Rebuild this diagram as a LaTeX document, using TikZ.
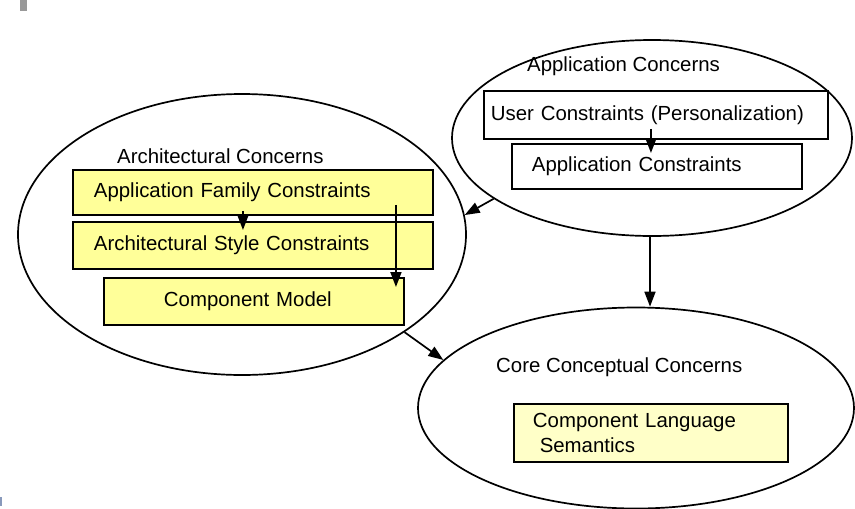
\documentclass[tikz,border=0pt]{standalone}
\usepackage{fontspec}
\setmainfont{Liberation Sans}
\usetikzlibrary{shapes.geometric,arrows.meta}
\definecolor{boxyellow}{HTML}{FFFF99}
\definecolor{paleyellow}{HTML}{FFFFC8}
\definecolor{bargray}{HTML}{999999}
\definecolor{markblue}{HTML}{8899BB}
\tikzset{
  concern/.style={draw, line width=1.7pt, ellipse, fill=white, inner sep=0pt},
  cbox/.style={draw, line width=1.9pt, rectangle, anchor=north west, align=left, inner ysep=0pt, font=\fontsize{20.4}{25}\selectfont},
  ytext/.style={anchor=west, inner sep=0pt, font=\fontsize{20.4}{25}\selectfont},
  arr/.style={line width=1.7pt, -{Triangle[length=15pt,width=11pt]}}
}
\begin{document}
\begin{tikzpicture}[x=1pt,y=-1pt]
\useasboundingbox (0,0) rectangle (855,509);
\fill[bargray] (20,0) rectangle (27,11);
\fill[markblue] (0,497) rectangle (2,506);

% ellipses
\node[concern, minimum width=448pt, minimum height=281pt] (arch) at (242,234.5) {};
\node[concern, minimum width=400pt, minimum height=196pt] (app) at (652,138) {};
\node[concern, minimum width=436pt, minimum height=201pt] (core) at (636,408) {};

% titles
\node[ytext] (archT) at (117,156) {Architectural Concerns};
\node[ytext] (appT) at (527,66) {Application Concerns};
\node[ytext] (coreT) at (496,367) {Core Conceptual Concerns};

% boxes
\node[cbox, fill=boxyellow, minimum height=45pt, inner xsep=21pt, text width=318pt] (fam) at (72,169) {Application Family Constraints};
\node[cbox, fill=boxyellow, minimum height=47pt, inner xsep=21pt, text width=318pt] (sty) at (72,221) {Architectural Style Constraints};
\node[cbox, fill=boxyellow, minimum height=47pt, inner xsep=60pt, text width=180pt] (comp) at (103,277) {Component Model};
\node[cbox, fill=white, minimum height=48pt, inner xsep=7pt, text width=330pt] (user) at (483,90) {User Constraints (Personalization)};
\node[cbox, fill=white, minimum height=45pt, inner xsep=20pt, text width=250pt] (appc) at (511,143) {Application Constraints};
\node[cbox, fill=paleyellow, minimum height=58pt, inner xsep=19pt, text width=236pt] (sem) at (513,403) {Component Language\\\ Semantics};

% connectors
\draw[arr] ([xshift=-5pt,yshift=11pt]user.south) -- ([xshift=-6pt,yshift=-10pt]appc.north);
\draw[arr] ([xshift=-10pt,yshift=5pt]fam.south) -- ([xshift=-10pt,yshift=-9pt]sty.north);
\draw[arr] ([xshift=143pt,yshift=11pt]fam.south) -- ([xshift=142pt,yshift=-10pt]comp.north);
\draw[arr] (app.201.4) -- (arch.5.5);
\draw[arr] (arch.329.2) -- (core.166.6);
\draw[arr] ([xshift=-2pt]app.south) -- ([xshift=-2pt]app.south |- core.north);
\end{tikzpicture}
\end{document}
